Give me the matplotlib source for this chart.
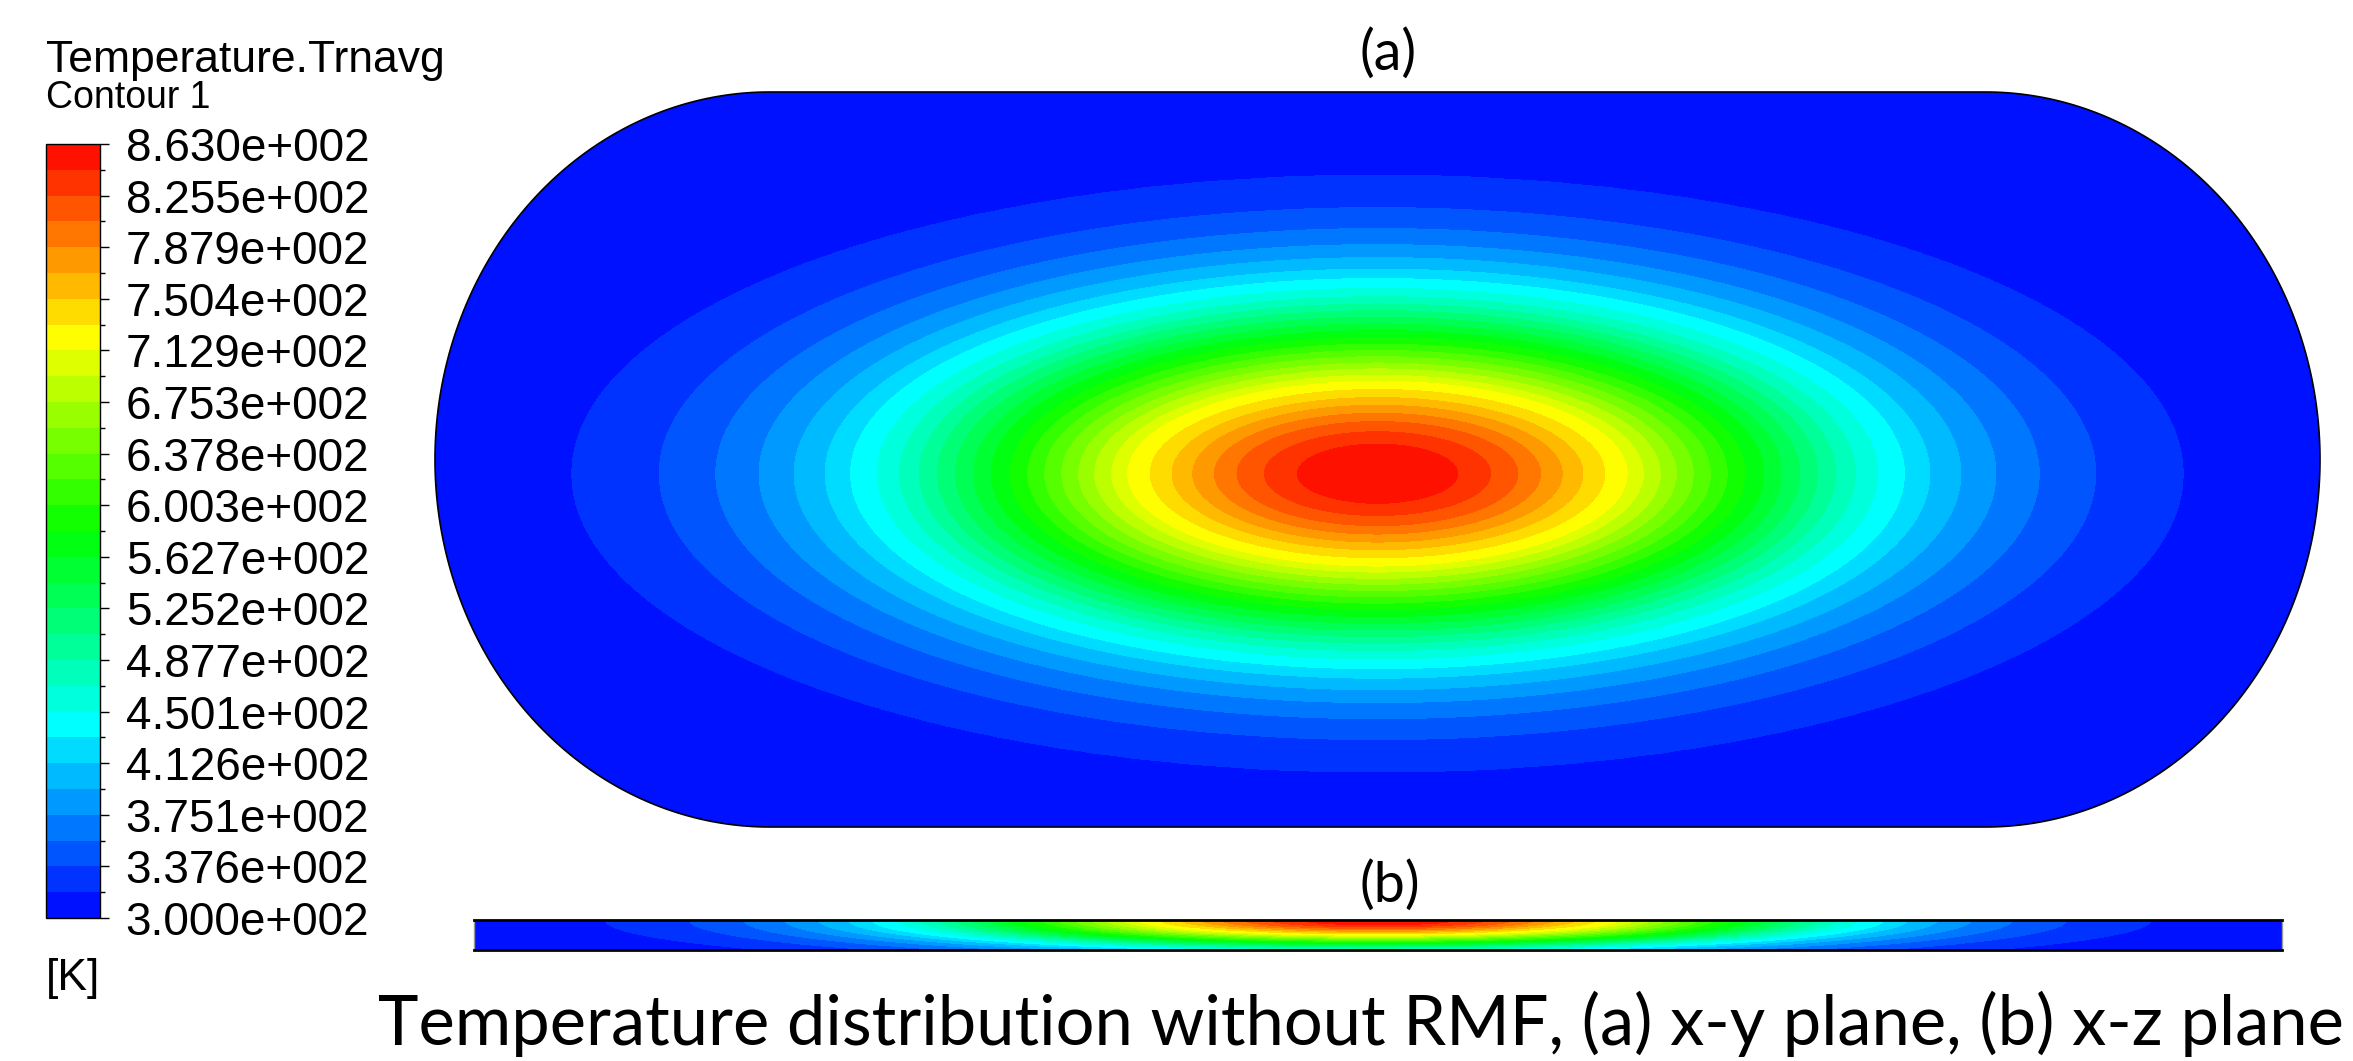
import numpy as np
import matplotlib
matplotlib.use("Agg")
import matplotlib.pyplot as plt
from matplotlib.colors import LinearSegmentedColormap
from matplotlib.path import Path
from matplotlib.patches import PathPatch
from matplotlib.ticker import FixedLocator, NullFormatter

# ---------------- data ----------------
T_MIN, T_MAX = 300.0, 863.0
N_BANDS = 30
TICK_VALUES = [863.0, 825.5, 787.9, 750.4, 712.9, 675.3, 637.8, 600.3,
               562.7, 525.2, 487.7, 450.1, 412.6, 375.1, 337.6, 300.0]
TICK_LABELS = ["8.630e+002", "8.255e+002", "7.879e+002", "7.504e+002",
               "7.129e+002", "6.753e+002", "6.378e+002", "6.003e+002",
               "5.627e+002", "5.252e+002", "4.877e+002", "4.501e+002",
               "4.126e+002", "3.751e+002", "3.376e+002", "3.000e+002"]
RAINBOW = ["#0000ff", "#00ffff", "#00ff00", "#ffff00", "#ff0000"]

# temperature vs. distance from hot spot along the x-y centre line
# (distance normalised by the half length of the plate)
PROFILE_R = [0.000, 0.085, 0.120, 0.149, 0.173, 0.196, 0.218, 0.241, 0.265,
             0.282, 0.300, 0.317, 0.335, 0.353, 0.371, 0.390, 0.410, 0.429,
             0.448, 0.467, 0.486, 0.507, 0.531, 0.559, 0.586, 0.619, 0.656,
             0.702, 0.762, 0.854, 1.300]
PROFILE_T = [863.0, 844.3, 825.5, 806.8, 788.0, 769.2, 750.4, 731.7, 712.9,
             694.1, 675.4, 656.6, 637.8, 619.1, 600.3, 581.5, 562.7, 544.0,
             525.2, 506.4, 487.7, 468.9, 450.1, 431.4, 412.6, 393.8, 375.1,
             356.3, 337.5, 318.8, 300.0]

# plate geometry (normalised by half length)
A_HALF_STRAIGHT = 0.645
A_HALF_HEIGHT = 0.390
HOT_Y = -0.015
ISO_ASPECT = 2.7      # isotherm flattening in x-y plane
DEPTH_SCALE = 0.52    # decay with depth in x-z plane

TITLE = "Temperature.Trnavg"
SUBTITLE = "Contour 1"
UNIT = "[K]"
CAPTION = "Temperature distribution without RMF, (a) x-y plane, (b) x-z plane"

# ---------------- figure ----------------
W, H = 2353, 1061
fig = plt.figure(figsize=(W / 100, H / 100), dpi=100)
fig.patch.set_facecolor("white")


def fx(px):
    return px / W


def fy(py):
    return 1 - py / H


def add_axes_px(x0, y0, x1, y1):
    return fig.add_axes([fx(x0), fy(y1), (x1 - x0) / W, (y1 - y0) / H])


levels = np.linspace(T_MIN, T_MAX, N_BANDS + 1)
cmap = LinearSegmentedColormap.from_list("fluent_rainbow", RAINBOW, N=1024)

# ---------------- panel (a): x-y plane ----------------
axa = add_axes_px(435, 92, 2320, 827)
xa = np.linspace(-1, 1, 1500)
ya = np.linspace(-A_HALF_HEIGHT, A_HALF_HEIGHT, 600)
XA, YA = np.meshgrid(xa, ya)
rho_a = np.sqrt(XA ** 2 + (ISO_ASPECT * (YA - HOT_Y)) ** 2)
TA = np.interp(rho_a, PROFILE_R, PROFILE_T)
cs = axa.contourf(XA, YA, TA, levels=levels, cmap=cmap, vmin=T_MIN, vmax=T_MAX)

end_r = 1 - A_HALF_STRAIGHT
th_r = np.linspace(np.pi / 2, -np.pi / 2, 200)
th_l = np.linspace(-np.pi / 2, -3 * np.pi / 2, 200)
right = np.column_stack([A_HALF_STRAIGHT + end_r * np.cos(th_r), A_HALF_HEIGHT * np.sin(th_r)])
left = np.column_stack([-A_HALF_STRAIGHT + end_r * np.cos(th_l), A_HALF_HEIGHT * np.sin(th_l)])
verts = np.vstack([right, left, right[:1]])
stadium = Path(verts, closed=True)
clip = PathPatch(stadium, transform=axa.transData, facecolor="none", edgecolor="none")
axa.add_patch(clip)
cs.set_clip_path(clip)
axa.add_patch(PathPatch(stadium, facecolor="none", edgecolor="black", lw=1.2,
                        clip_on=False, zorder=5))
axa.set_xlim(-1, 1)
axa.set_ylim(-A_HALF_HEIGHT, A_HALF_HEIGHT)
axa.axis("off")

# ---------------- panel (b): x-z plane ----------------
axb = add_axes_px(474, 920, 2282, 950)
xb = np.linspace(-1, 1, 1500)
zb = np.linspace(-1, 0, 80)
XB, ZB = np.meshgrid(xb, zb)
rho_b = np.sqrt(XB ** 2 + (DEPTH_SCALE * ZB) ** 2)
TB = np.interp(rho_b, PROFILE_R, PROFILE_T)
axb.contourf(XB, ZB, TB, levels=levels, cmap=cmap, vmin=T_MIN, vmax=T_MAX)
axb.set_xlim(-1, 1)
axb.set_ylim(-1, 0)
for side in ["top", "bottom"]:
    axb.spines[side].set_color("black")
    axb.spines[side].set_linewidth(2.0)
for side in ["left", "right"]:
    axb.spines[side].set_color("#9a9a9a")
    axb.spines[side].set_linewidth(1.0)
axb.set_xticks([])
axb.set_yticks([])

# ---------------- colour bar ----------------
cax = add_axes_px(46, 144, 100, 918)
cb = fig.colorbar(cs, cax=cax, orientation="vertical")
cb.outline.set_edgecolor("black")
cb.outline.set_linewidth(1.0)
cax.yaxis.set_major_locator(FixedLocator(TICK_VALUES))
cax.set_yticklabels(TICK_LABELS)
minor = [(a + b) / 2 for a, b in zip(TICK_VALUES[:-1], TICK_VALUES[1:])]
cax.yaxis.set_minor_locator(FixedLocator(minor))
cax.yaxis.set_minor_formatter(NullFormatter())
cax.tick_params(axis="y", which="major", length=6.5, width=1.0, direction="out",
                pad=12, labelsize=33, colors="black")
cax.tick_params(axis="y", which="minor", length=3.5, width=1.0, direction="out")
for lab in cax.get_yticklabels():
    lab.set_fontfamily("Liberation Sans")

arial = "Liberation Sans"
fig.text(fx(46), fy(72), TITLE, fontsize=32, family=arial, va="baseline", ha="left")
fig.text(fx(46), fy(108), SUBTITLE, fontsize=27, family=arial, va="baseline", ha="left")
fig.text(fx(46), fy(990), UNIT, fontsize=32, family=arial, va="baseline", ha="left")

# ---------------- panel labels & caption ----------------
cal = ["Lato", "DejaVu Sans"]
fig.text(fx(1388), fy(70), "(a)", fontsize=40, family=cal, va="baseline", ha="center")
fig.text(fx(1390), fy(902), "(b)", fontsize=40, family=cal, va="baseline", ha="center")
cap = fig.text(fx(378), fy(1045), CAPTION, fontsize=44, family=cal, va="baseline", ha="left")
fig.canvas.draw()
bb = cap.get_window_extent()
cap.set_fontsize(44 * (2344 - 378) / bb.width)

fig.savefig("out.png", dpi=100, facecolor="white")
